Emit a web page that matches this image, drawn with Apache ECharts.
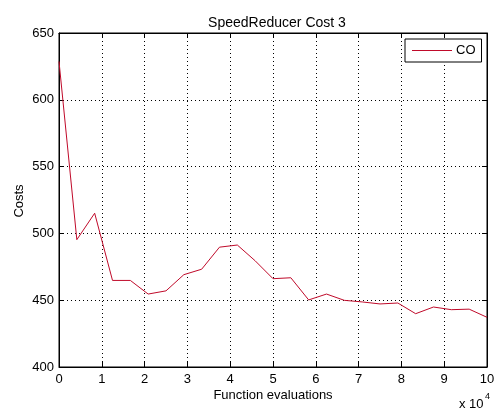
<!DOCTYPE html>
<html>
<head>
<meta charset="utf-8">
<script src="https://cdn.jsdelivr.net/npm/echarts@6/dist/echarts.min.js"></script>
<style>html,body{margin:0;padding:0;background:#fff;}#c{width:498px;height:412px;}</style>
</head>
<body>
<div id="c"></div>
<script>
const evaluations = [0, 4167, 8333, 12500, 16667, 20833, 25000, 29167, 33333, 37500, 41667, 45833, 50000, 54167, 58333, 62500, 66667, 70833, 75000, 79167, 83333, 87500, 91667, 95833, 100000];
const costsCO = [628.7, 495.3, 515.1, 464.8, 464.8, 454.6, 457.0, 469.1, 473.2, 489.7, 491.3, 479.5, 466.1, 466.8, 450.2, 454.6, 449.9, 448.7, 447.2, 447.9, 439.9, 444.9, 442.9, 443.3, 437.2];
const seriesName = 'CO';
const titleText = 'SpeedReducer Cost 3';
const xLabel = 'Function evaluations';
const yLabel = 'Costs';

const FONT = 'Liberation Sans, Arial, Helvetica, sans-serif';
const FS = 13;
const chart = echarts.init(document.getElementById('c'), null, {renderer: 'canvas'});
const gridLine = {show: true, lineStyle: {color: '#000', type: [1, 3], width: 1}};
const tick = {show: true, inside: true, length: 5, lineStyle: {color: '#000'}};
const axLine = {show: true, onZero: false, lineStyle: {color: '#000', width: 1}};
chart.setOption({
  animation: false,
  backgroundColor: '#fff',
  grid: {left: 59, right: 11, top: 33, bottom: 45, show: true, borderColor: '#000', borderWidth: 1, backgroundColor: '#fff'},
  title: {text: titleText, left: 272, top: 11, textAlign: 'center', textStyle: {fontFamily: FONT, fontSize: 14, fontWeight: 'normal', color: '#000'}},
  legend: {
    data: [seriesName], left: 405, top: 39, orient: 'vertical',
    icon: 'rect', itemWidth: 40, itemHeight: 1, itemGap: 5,
    padding: [5, 6, 5, 7], borderColor: '#000', borderWidth: 1, backgroundColor: '#fff',
    textStyle: {fontFamily: FONT, fontSize: FS, color: '#000', padding: [0, 0, 0, -1]}
  },
  xAxis: [
    {type: 'value', min: 0, max: 100000, interval: 10000, position: 'bottom',
     axisLine: axLine, axisTick: tick, splitLine: gridLine,
     axisLabel: {color: '#000', fontFamily: FONT, fontSize: FS, margin: 6, formatter: v => String(v / 10000)}},
    {type: 'value', min: 0, max: 100000, interval: 10000, position: 'top',
     axisLine: axLine, axisTick: tick, splitLine: {show: false}, axisLabel: {show: false}}
  ],
  yAxis: [
    {type: 'value', min: 400, max: 650, interval: 50, position: 'left',
     axisLine: axLine, axisTick: tick, splitLine: gridLine,
     axisLabel: {color: '#000', fontFamily: FONT, fontSize: FS, margin: 5}},
    {type: 'value', min: 400, max: 650, interval: 50, position: 'right',
     axisLine: axLine, axisTick: tick, splitLine: {show: false}, axisLabel: {show: false}}
  ],
  graphic: [
    {type: 'text', x: 273, y: 395, style: {text: xLabel, fill: '#000', font: FS + 'px ' + FONT, textAlign: 'center', textVerticalAlign: 'middle'}},
    {type: 'text', x: 19, y: 201, rotation: Math.PI / 2, style: {text: yLabel, fill: '#000', font: FS + 'px ' + FONT, textAlign: 'center', textVerticalAlign: 'middle'}},
    {type: 'text', x: 459, y: 404, style: {text: 'x 10', fill: '#000', font: '13px ' + FONT, textAlign: 'left', textVerticalAlign: 'middle'}},
    {type: 'text', x: 485, y: 397, style: {text: '4', fill: '#000', font: '9px ' + FONT, textAlign: 'left', textVerticalAlign: 'middle'}}
  ],
  series: [{
    name: seriesName, type: 'line', xAxisIndex: 0, yAxisIndex: 0,
    data: evaluations.map((x, i) => [x, costsCO[i]]),
    symbol: 'none', lineStyle: {color: '#c00a2a', width: 1}, itemStyle: {color: '#c00a2a'}
  }]
});
</script>
</body>
</html>
